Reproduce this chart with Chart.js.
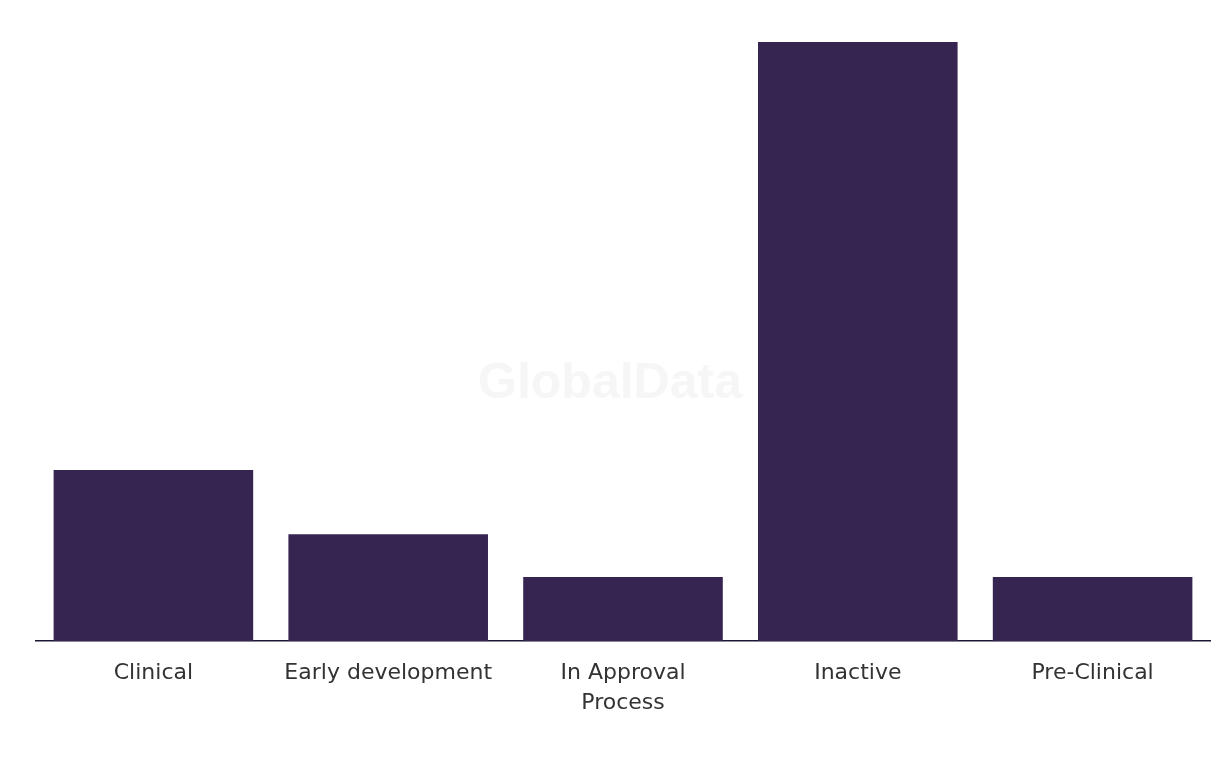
<!DOCTYPE html>
<html>
<head>
<meta charset="utf-8">
<script src="https://cdn.jsdelivr.net/npm/chart.js@4"></script>
<style>
  html, body { margin: 0; padding: 0; background: #ffffff; }
  #wrap { width: 1220px; height: 766px; position: relative; }
</style>
</head>
<body>
<div id="wrap"><canvas id="chart"></canvas></div>
<script>
const categories = ['Clinical', 'Early development', ['In Approval', 'Process'], 'Inactive', 'Pre-Clinical'];
const counts = [8, 5, 3, 28, 3];

// marca de agua detras de las barras
const watermark = {
    id: 'watermark',
    beforeDatasetsDraw(chart) {
        const ctx = chart.ctx;
        ctx.save();
        ctx.font = 'bold 50px "Liberation Sans", Arial, sans-serif';
        ctx.fillStyle = '#f6f6f6';
        ctx.textAlign = 'center';
        ctx.textBaseline = 'middle';
        ctx.fillText('GlobalData', 610, 384);
        ctx.restore();
    }
};

document.addEventListener('DOMContentLoaded', function() {
    const ctx = document.getElementById('chart');
    new Chart(ctx, {
        type: 'bar',
        data: {
            labels: categories,
            datasets: [{
                data: counts,
                backgroundColor: '#362451',
                borderWidth: 0,
                barPercentage: 0.85,
                categoryPercentage: 1
            }]
        },
        plugins: [watermark],
        options: {
            responsive: true,
            maintainAspectRatio: false,
            animation: false,
            layout: { padding: { left: 36, right: 10, top: 42, bottom: 39 } },
            plugins: {
                legend: { display: false },
                tooltip: { enabled: false }
            },
            scales: {
                x: {
                    grid: { display: false },
                    border: { display: true, color: '#1b1730', width: 1.5 },
                    ticks: {
                        color: '#333333',
                        padding: 9,
                        maxRotation: 0,
                        font: { family: '"DejaVu Sans", sans-serif', size: 22, lineHeight: 1.36 }
                    }
                },
                y: {
                    display: false,
                    min: 0,
                    max: 28
                }
            }
        }
    });
});
</script>
</body>
</html>
